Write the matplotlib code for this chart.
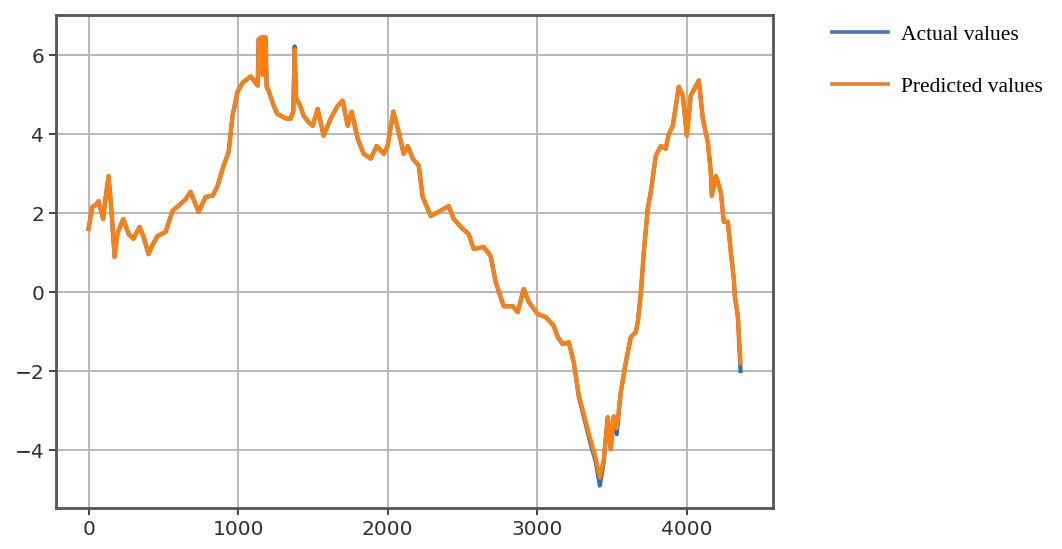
import matplotlib
matplotlib.use("Agg")
import matplotlib.pyplot as plt
from matplotlib.lines import Line2D

# values
steps = [0, 25, 47, 67, 98, 114, 134, 154, 174, 194, 232, 268, 301, 341, 368, 401, 428, 462,
         515, 562, 615, 649, 682, 736, 783, 830, 863, 903, 937, 963, 997, 1030, 1084, 1117,
         1131, 1137, 1157, 1164, 1171, 1184, 1191, 1204, 1238, 1264, 1284, 1318, 1351, 1369,
         1378, 1388, 1412, 1438, 1472, 1499, 1532, 1572, 1619, 1666, 1699, 1733, 1759, 1800,
         1840, 1887, 1927, 1974, 2000, 2038, 2074, 2107, 2134, 2168, 2208, 2234, 2288, 2355,
         2408, 2442, 2502, 2542, 2576, 2643, 2689, 2723, 2776, 2837, 2870, 2910, 2944, 3004,
         3057, 3111, 3138, 3171, 3211, 3245, 3278, 3312, 3358, 3392, 3419, 3445, 3472, 3492,
         3512, 3532, 3559, 3593, 3626, 3659, 3673, 3693, 3713, 3739, 3760, 3793, 3827, 3860,
         3880, 3907, 3947, 3974, 4001, 4027, 4081, 4108, 4141, 4161, 4168, 4195, 4228, 4248,
         4275, 4295, 4315, 4322, 4342, 4360]

actual = [1.60, 2.16, 2.20, 2.30, 1.85, 2.40, 2.94, 2.00, 0.89, 1.50, 1.85, 1.47, 1.35, 1.65,
          1.40, 0.96, 1.20, 1.42, 1.52, 2.06, 2.23, 2.35, 2.54, 2.03, 2.41, 2.44, 2.69, 3.20,
          3.55, 4.47, 5.08, 5.30, 5.46, 5.30, 5.23, 6.40, 6.45, 5.50, 6.45, 6.45, 5.20, 5.10,
          4.72, 4.50, 4.47, 4.40, 4.39, 4.57, 6.22, 4.90, 4.75, 4.47, 4.30, 4.21, 4.64, 3.96,
          4.39, 4.72, 4.85, 4.21, 4.57, 3.88, 3.50, 3.38, 3.70, 3.50, 3.70, 4.57, 4.06, 3.50,
          3.70, 3.38, 3.20, 2.41, 1.93, 2.06, 2.18, 1.85, 1.60, 1.47, 1.09, 1.14, 0.91, 0.25,
          -0.36, -0.36, -0.51, 0.08, -0.25, -0.56, -0.63, -0.86, -1.14, -1.32, -1.27, -1.78,
          -2.64, -3.15, -3.85, -4.30, -4.90, -4.31, -3.17, -3.98, -3.15, -3.60, -2.54, -1.78,
          -1.14, -1.02, -0.76, -0.05, 1.00, 2.10, 2.54, 3.45, 3.70, 3.63, 4.00, 4.21, 5.20,
          4.97, 3.96, 4.97, 5.36, 4.39, 3.80, 3.05, 2.44, 2.94, 2.54, 1.78, 1.78, 1.02, 0.33,
          -0.10, -0.61, -2.00]

predicted = [1.60, 2.16, 2.20, 2.30, 1.85, 2.40, 2.94, 2.00, 0.89, 1.50, 1.85, 1.47, 1.35, 1.65,
             1.40, 0.96, 1.20, 1.42, 1.52, 2.06, 2.23, 2.35, 2.54, 2.03, 2.41, 2.44, 2.69, 3.20,
             3.55, 4.47, 5.08, 5.30, 5.46, 5.30, 5.23, 6.40, 6.45, 5.50, 6.45, 6.45, 5.20, 5.10,
             4.72, 4.50, 4.47, 4.40, 4.39, 4.57, 6.15, 4.90, 4.75, 4.47, 4.30, 4.21, 4.64, 3.96,
             4.39, 4.72, 4.85, 4.21, 4.57, 3.88, 3.50, 3.38, 3.70, 3.50, 3.70, 4.57, 4.06, 3.50,
             3.70, 3.38, 3.20, 2.41, 1.93, 2.06, 2.18, 1.85, 1.60, 1.47, 1.09, 1.14, 0.91, 0.25,
             -0.36, -0.36, -0.51, 0.08, -0.25, -0.56, -0.63, -0.86, -1.14, -1.32, -1.27, -1.78,
             -2.60, -3.10, -3.75, -4.20, -4.70, -4.25, -3.17, -3.98, -3.15, -3.45, -2.54, -1.78,
             -1.14, -1.02, -0.76, -0.05, 1.00, 2.10, 2.54, 3.45, 3.70, 3.63, 4.00, 4.21, 5.20,
             4.97, 3.96, 4.97, 5.36, 4.39, 3.80, 3.05, 2.44, 2.94, 2.54, 1.78, 1.78, 1.02, 0.33,
             -0.10, -0.61, -1.80]

legend_labels = ["Actual values", "Predicted values"]

fig = plt.figure(figsize=(10.62, 5.49), dpi=100)
ax = fig.add_axes([0.0527, 0.0747, 0.6753, 0.898])

ax.plot(steps, actual, color="#1f77b4", lw=3.0)
ax.plot(steps, predicted, color="#ff7f0e", lw=3.0)

ax.set_xticks([0, 1000, 2000, 3000, 4000])
ax.set_yticks([-4, -2, 0, 2, 4, 6])
ax.grid(True, color="#b8b8b8", lw=1.4)
ax.set_axisbelow(True)
ax.tick_params(labelsize=14.5, labelcolor="#2e2e2e", color="#444444", length=5, width=1.4)
for s in ax.spines.values():
    s.set_color("#555555")
    s.set_linewidth(2)

# legend sits outside the axes, in a serif face
handles = [Line2D([], [], color="#4472c4", lw=2.6), Line2D([], [], color="#ed7d31", lw=2.6)]
fig.legend(handles, legend_labels, loc="upper left", bbox_to_anchor=(0.773, 0.975),
           frameon=False, prop={"family": "Liberation Serif", "size": 15.5},
           handlelength=2.6, handletextpad=0.6, labelspacing=1.5, borderpad=0)

fig.savefig("out.png", dpi=100)
